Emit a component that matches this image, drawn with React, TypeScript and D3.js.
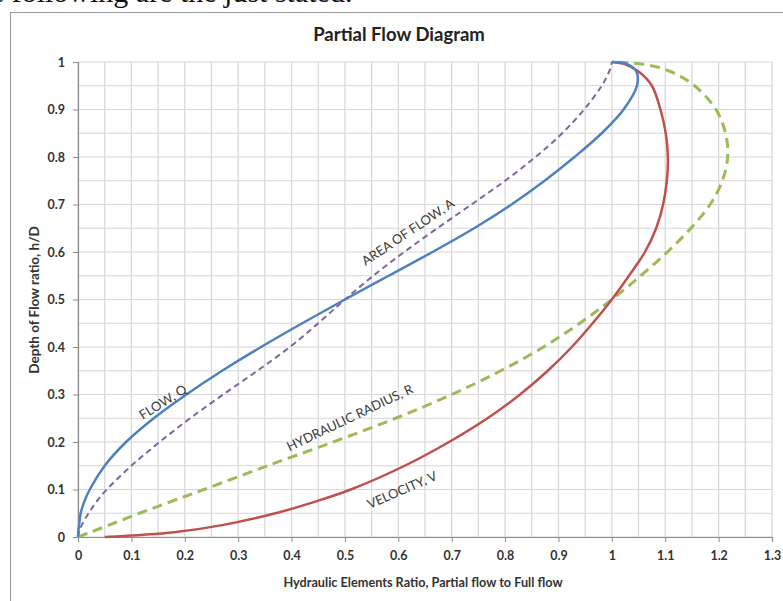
import React, { useEffect, useRef } from 'react';
import * as d3 from 'd3';

// depth of flow ratio h/D, shared by every curve
const depth = [0, 0.01, 0.025, 0.05, 0.075, 0.1, 0.15, 0.2, 0.25, 0.3, 0.35, 0.4, 0.45, 0.5, 0.55, 0.6, 0.65, 0.7, 0.75, 0.8, 0.85, 0.9, 0.95, 0.98, 0.995, 1];

// hydraulic element ratios at each depth
const flowQ = [0, 0.0005, 0.002, 0.005, 0.012, 0.022, 0.05, 0.09, 0.142, 0.203, 0.27, 0.343, 0.42, 0.5, 0.582, 0.664, 0.742, 0.812, 0.874, 0.93, 0.981, 1.022, 1.047, 1.046, 1.03, 1];
const areaA = [0, 0.002, 0.007, 0.02, 0.035, 0.054, 0.1, 0.153, 0.21, 0.272, 0.336, 0.397, 0.45, 0.5, 0.553, 0.611, 0.673, 0.737, 0.8, 0.857, 0.907, 0.948, 0.981, 0.995, 0.999, 1];
const radiusR = [0, 0.023, 0.058, 0.115, 0.175, 0.236, 0.355, 0.478, 0.595, 0.7, 0.792, 0.872, 0.94, 1, 1.054, 1.104, 1.148, 1.184, 1.207, 1.217, 1.213, 1.195, 1.155, 1.11, 1.06, 1];
const velocityV = [0.05, 0.18, 0.27, 0.37, 0.446, 0.511, 0.612, 0.695, 0.767, 0.828, 0.88, 0.925, 0.964, 1, 1.032, 1.062, 1.083, 1.096, 1.103, 1.105, 1.101, 1.091, 1.075, 1.05, 1.025, 1];

const xTicks = [0, 0.1, 0.2, 0.3, 0.4, 0.5, 0.6, 0.7, 0.8, 0.9, 1, 1.1, 1.2, 1.3];
const yTicks = [0, 0.1, 0.2, 0.3, 0.4, 0.5, 0.6, 0.7, 0.8, 0.9, 1];

const font = 'Lato, "Open Sans", sans-serif';

export default function App() {
  const svgRef = useRef<SVGSVGElement>(null);

  useEffect(() => {
    const svg = d3.select(svgRef.current);
    svg.selectAll('*').remove();

    const x = d3.scaleLinear().domain([0, 1.3]).range([78, 772]);
    const y = d3.scaleLinear().domain([0, 1]).range([537, 62]);

    svg.append('rect').attr('width', 783).attr('height', 601).attr('fill', '#fff');

    // leftover line of the page above the chart, only its bottom shows
    svg.append('text')
      .attr('x', -55).attr('y', 2)
      .attr('font-family', '"Liberation Serif", "DejaVu Serif", serif')
      .attr('font-size', 30)
      .attr('fill', '#111')
      .text('o the following are the just stated.');

    // chart frame
    svg.append('rect')
      .attr('x', 10.5).attr('y', 12.5)
      .attr('width', 800).attr('height', 620)
      .attr('fill', 'none').attr('stroke', '#9a9a9a');

    // grid, every 0.05
    const gx = d3.range(0, 27).map(i => i * 0.05);
    const gy = d3.range(0, 21).map(i => i * 0.05);
    const grid = svg.append('g').attr('stroke', '#d6d6d6').attr('stroke-width', 1.2);
    grid.selectAll('.gv').data(gx).enter().append('line')
      .attr('x1', d => x(d)).attr('x2', d => x(d))
      .attr('y1', y(0)).attr('y2', y(1));
    grid.selectAll('.gh').data(gy).enter().append('line')
      .attr('x1', x(0)).attr('x2', x(1.3))
      .attr('y1', d => y(d)).attr('y2', d => y(d));

    // axes
    const xAxis = svg.append('g')
      .attr('transform', `translate(0,${y(0)})`)
      .call(d3.axisBottom(x).tickValues(xTicks).tickSize(5).tickFormat(d3.format('~g')));
    const yAxis = svg.append('g')
      .attr('transform', `translate(${x(0)},0)`)
      .call(d3.axisLeft(y).tickValues(yTicks).tickSize(5).tickFormat(d3.format('~g')));
    [xAxis, yAxis].forEach(a => {
      a.select('.domain').attr('stroke', '#8c8c8c').attr('stroke-width', 1.2);
      a.selectAll('.tick line').attr('stroke', '#8c8c8c');
      a.selectAll('.tick text')
        .attr('font-family', font).attr('font-size', 12.5).attr('font-weight', 700).attr('fill', '#333');
    });
    xAxis.selectAll('.tick text').attr('dy', '1.2em');
    yAxis.selectAll('.tick text').attr('x', -13);

    // curves
    const series = [
      { values: radiusR, color: '#9bbb59', width: 3, dash: '10,6' },
      { values: velocityV, color: '#c0504d', width: 2.5, dash: null },
      { values: areaA, color: '#8064a2', width: 2, dash: '6,4' },
      { values: flowQ, color: '#4f81bd', width: 2.5, dash: null },
    ];
    series.forEach(s => {
      const line = d3.line<number>()
        .x((_, i) => x(s.values[i]))
        .y(d => y(d))
        .curve(d3.curveCatmullRom.alpha(0.5));
      svg.append('path')
        .attr('d', line(depth))
        .attr('fill', 'none')
        .attr('stroke', s.color)
        .attr('stroke-width', s.width)
        .attr('stroke-dasharray', s.dash);
    });

    // curve labels
    const labels = [
      { text: 'FLOW, Q', at: [0.159, 0.284], angle: -32 },
      { text: 'AREA OF FLOW, A', at: [0.618, 0.642], angle: -34 },
      { text: 'HYDRAULIC RADIUS, R', at: [0.509, 0.251], angle: -25.5 },
      { text: 'VELOCITY, V', at: [0.607, 0.099], angle: -23.5 },
    ];
    labels.forEach(l => {
      svg.append('text')
        .attr('transform', `translate(${x(l.at[0])},${y(l.at[1])}) rotate(${l.angle})`)
        .attr('text-anchor', 'middle')
        .attr('dy', '0.35em')
        .attr('font-family', font).attr('font-size', 13)
        .attr('fill', '#3a3a3a')
        .text(l.text);
    });

    // titles
    svg.append('text')
      .attr('x', 399).attr('y', 41)
      .attr('text-anchor', 'middle')
      .attr('font-family', font).attr('font-size', 18.5).attr('font-weight', 700)
      .attr('fill', '#222')
      .text('Partial Flow Diagram');
    svg.append('text')
      .attr('x', 423).attr('y', 587)
      .attr('text-anchor', 'middle')
      .attr('font-family', font).attr('font-size', 12.7).attr('font-weight', 700)
      .attr('fill', '#333')
      .text('Hydraulic Elements Ratio, Partial flow to Full flow');
    svg.append('text')
      .attr('transform', 'translate(39,300) rotate(-90)')
      .attr('text-anchor', 'middle')
      .attr('font-family', font).attr('font-size', 13.5).attr('font-weight', 700)
      .attr('fill', '#333')
      .text('Depth of Flow ratio, h/D');
  }, []);

  return (
    <div style={{ position: 'absolute', left: 0, top: 0 }}>
      <svg ref={svgRef} width={783} height={601} style={{ display: 'block' }} />
    </div>
  );
}
